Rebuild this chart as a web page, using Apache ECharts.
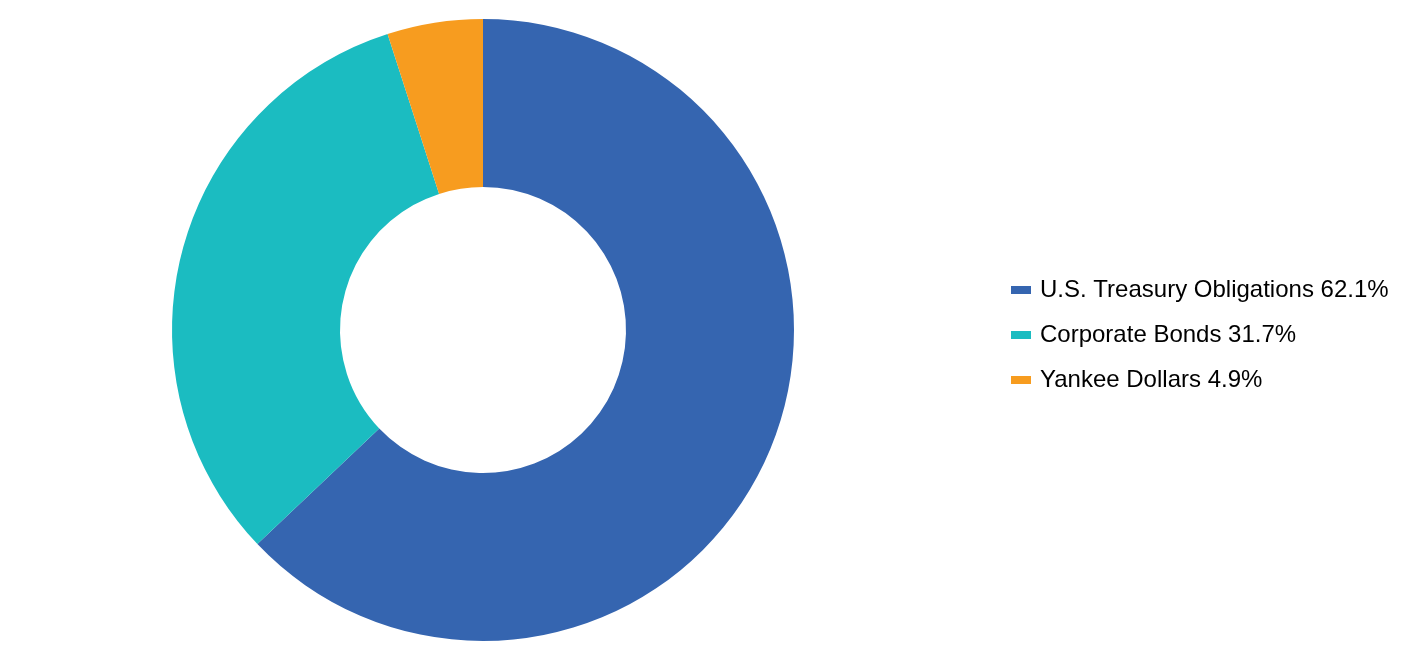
<!DOCTYPE html>
<html>
<head>
<meta charset="utf-8">
<script src="https://cdn.jsdelivr.net/npm/echarts@6/dist/echarts.min.js"></script>
<style>
html,body{margin:0;padding:0;background:#fff;}
#chart{width:1428px;height:672px;}
</style>
</head>
<body>
<div id="chart"></div>
<script>
const categories = ["U.S. Treasury Obligations", "Corporate Bonds", "Yankee Dollars"];
const values = [62.1, 31.7, 4.9];
const colors = ["#3565B0", "#1BBCC1", "#F79C1F"];

const chart = echarts.init(document.getElementById('chart'), null, {renderer: 'canvas'});
const data = categories.map((c, i) => ({name: c, value: values[i], itemStyle: {color: colors[i]}}));
const valueMap = {};
categories.forEach((c, i) => valueMap[c] = values[i]);

chart.setOption({
  animation: false,
  backgroundColor: '#ffffff',
  legend: {
    orient: 'vertical',
    left: 1011,
    top: 278,
    padding: 0,
    itemWidth: 20,
    itemHeight: 8,
    itemGap: 21,
    icon: 'rect',
    selectedMode: false,
    textStyle: {
      fontFamily: "'Liberation Sans', Arial, sans-serif",
      fontSize: 24,
      lineHeight: 24,
      color: '#000',
      padding: [0, 0, 0, 4]
    },
    formatter: function (name) { return name + ' ' + valueMap[name].toFixed(1) + '%'; },
    data: categories
  },
  series: [{
    type: 'pie',
    center: [483, 330],
    radius: [143, 311],
    startAngle: 90,
    clockwise: true,
    label: {show: false},
    labelLine: {show: false},
    emphasis: {disabled: true},
    silent: true,
    itemStyle: {borderWidth: 0},
    data: data
  }]
});
</script>
</body>
</html>
